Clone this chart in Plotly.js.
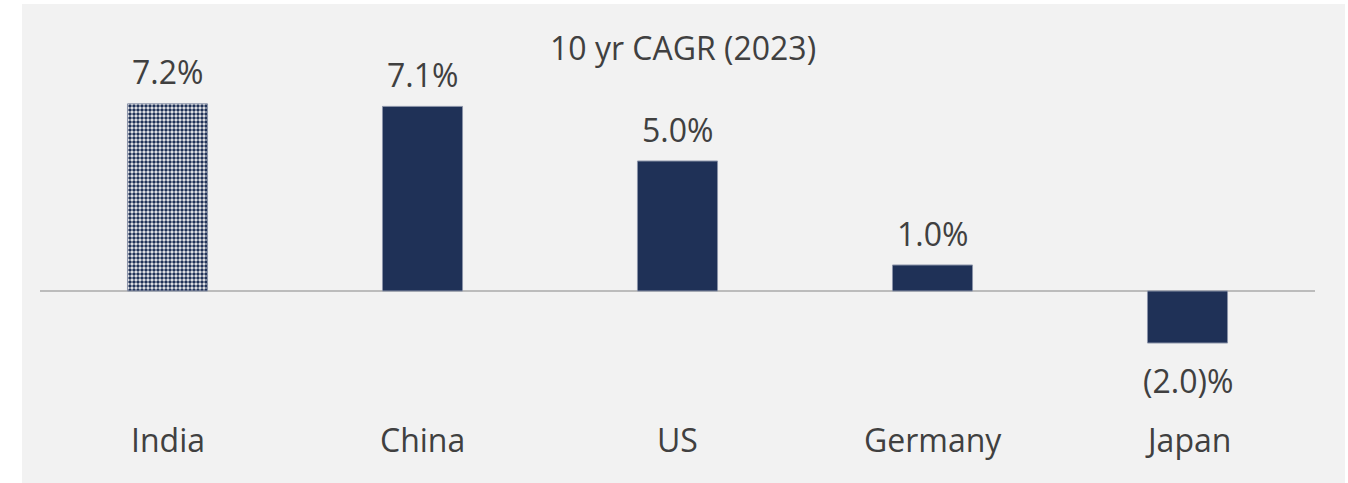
<!DOCTYPE html>
<html>
<head>
<meta charset="utf-8">
<script src="https://cdn.plot.ly/plotly-3.0.1.min.js"></script>
<style>html,body{margin:0;padding:0;background:#fff;}#chart{width:1348px;height:483px;}</style>
</head>
<body>
<div id="chart"></div>
<script>
const categories = ["India", "China", "US", "Germany", "Japan"];
const values = [7.2, 7.1, 5.0, 1.0, -2.0];
const valueLabels = ["7.2%", "7.1%", "5.0%", "1.0%", "(2.0)%"];
const chartTitle = "10 yr CAGR (2023)";

const navy = "#1f3157";
const textColor = "#404040";
const fontFam = "Open Sans, Noto Sans, sans-serif";

const trace = {
  type: "bar",
  x: categories,
  y: values,
  width: 0.314,
  marker: {
    color: categories.map(() => navy),
    line: { color: "#8a93a8", width: 1 },
    pattern: {
      shape: categories.map((c, i) => i === 0 ? "." : ""),
      fgcolor: navy,
      bgcolor: "#ffffff",
      size: 4,
      solidity: 0.6
    }
  },
  hoverinfo: "none"
};

const annotations = [];
values.forEach((v, i) => {
  annotations.push({
    x: categories[i], y: v, xref: "x", yref: "y",
    text: valueLabels[i], showarrow: false,
    yanchor: "middle", yshift: v >= 0 ? 32 : -37,
    font: { family: fontFam, size: 32, color: textColor }
  });
  annotations.push({
    x: categories[i], y: (420 - 439) / 400, xref: "x", yref: "paper",
    text: categories[i], showarrow: false, yanchor: "middle",
    font: { family: fontFam, size: 32, color: textColor }
  });
});

const layout = {
  width: 1348, height: 483,
  margin: { l: 40, r: 33, t: 20, b: 63 },
  paper_bgcolor: "#ffffff",
  plot_bgcolor: "rgba(0,0,0,0)",
  showlegend: false,
  title: {
    text: chartTitle, xref: "container", yref: "container",
    x: 0.5067, y: 1 - 49 / 483, xanchor: "center", yanchor: "middle",
    font: { family: fontFam, size: 32, color: textColor }
  },
  xaxis: {
    range: [-0.5, 4.5], showticklabels: false, showgrid: false,
    zeroline: false, showline: false, ticks: "", fixedrange: true
  },
  yaxis: {
    range: [-(420 - 291) / 26, (291 - 20) / 26],
    showticklabels: false, showgrid: false, ticks: "",
    zeroline: true, zerolinecolor: "#bcbcbc", zerolinewidth: 2,
    showline: false, fixedrange: true
  },
  shapes: [{
    type: "rect", xref: "paper", yref: "paper", layer: "below",
    x0: (22 - 40) / 1275, x1: (1345 - 40) / 1275,
    y0: (420 - 483) / 400, y1: (420 - 4) / 400,
    fillcolor: "#f2f2f2", line: { width: 0 }
  }],
  annotations: annotations
};

Plotly.newPlot("chart", [trace], layout, { displayModeBar: false, staticPlot: true });
</script>
</body>
</html>
